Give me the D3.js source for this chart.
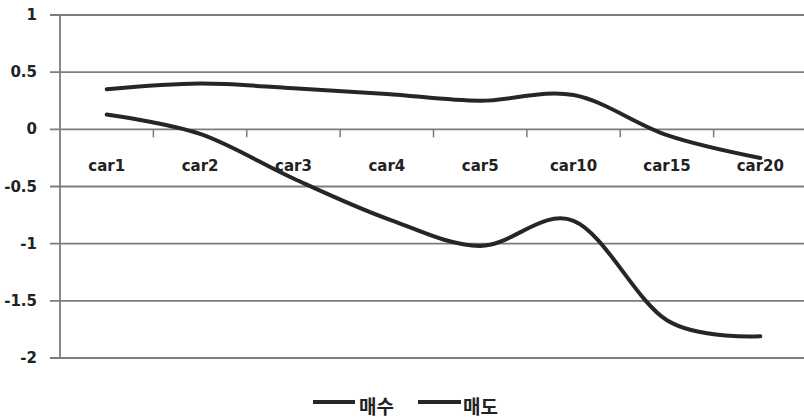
<!DOCTYPE html>
<html>
<head>
<meta charset="utf-8">
<script src="https://cdn.jsdelivr.net/npm/d3@7/dist/d3.min.js"></script>
<style>
  html, body { margin: 0; padding: 0; background: #fff; }
  svg { display: block; }
</style>
</head>
<body>
<svg id="chart" width="804" height="420"></svg>
<script>
const categories = ["car1", "car2", "car3", "car4", "car5", "car10", "car15", "car20"];
const seriesNames = ["매수", "매도"];
const buyValues  = [0.35, 0.40, 0.36, 0.31, 0.25, 0.30, -0.05, -0.25];
const sellValues = [0.13, -0.04, -0.43, -0.78, -1.02, -0.80, -1.67, -1.81];
const yTicks = [1, 0.5, 0, -0.5, -1, -1.5, -2];
const yTickLabels = ["1", "0.5", "0", "-0.5", "-1", "-1.5", "-2"];

(function () {
const svg = d3.select("#chart");
const plotLeft = 60, plotRight = 807, plotTop = 15, plotBottom = 358;

const x = d3.scaleBand().domain(categories).range([plotLeft, plotRight]).padding(0);
const y = d3.scaleLinear().domain([-2, 1]).range([plotBottom, plotTop]);

const gridColor = "#7d7d7d";

// horizontal gridlines
svg.append("g").selectAll("line").data(yTicks).join("line")
  .attr("x1", plotLeft - 10).attr("x2", 804)
  .attr("y1", d => y(d)).attr("y2", d => y(d))
  .attr("stroke", gridColor).attr("stroke-width", 1.8);

// vertical axis line
svg.append("line")
  .attr("x1", plotLeft).attr("x2", plotLeft)
  .attr("y1", y(1)).attr("y2", y(-2))
  .attr("stroke", gridColor).attr("stroke-width", 1.8);

// y tick labels
svg.append("g").selectAll("text").data(yTicks).join("text")
  .attr("x", 37).attr("y", d => y(d))
  .attr("text-anchor", "end").attr("dominant-baseline", "central")
  .attr("font-family", "DejaVu Sans, sans-serif").attr("font-weight", "bold")
  .attr("font-size", 15).attr("fill", "#222")
  .text((d, i) => yTickLabels[i]);

// category tick marks (boundaries)
const boundaries = categories.slice(1).map(c => x(c));
svg.append("g").selectAll("line").data(boundaries).join("line")
  .attr("x1", d => d).attr("x2", d => d)
  .attr("y1", y(0)).attr("y2", y(0) + 8)
  .attr("stroke", gridColor).attr("stroke-width", 1.5);

// category labels
svg.append("g").selectAll("text").data(categories).join("text")
  .attr("x", d => x(d) + x.bandwidth() / 2)
  .attr("y", y(0) + 41.5)
  .attr("text-anchor", "middle")
  .attr("font-family", "DejaVu Sans, sans-serif").attr("font-weight", "bold")
  .attr("font-size", 15).attr("fill", "#222")
  .text(d => d);

// lines
const line = d3.line()
  .x((d, i) => x(categories[i]) + x.bandwidth() / 2)
  .y(d => y(d))
  .curve(d3.curveCardinal.tension(0));

[buyValues, sellValues].forEach(vals => {
  svg.append("path")
    .datum(vals)
    .attr("d", line)
    .attr("fill", "none")
    .attr("stroke", "#262626")
    .attr("stroke-width", 4)
    .attr("stroke-linecap", "round")
    .attr("stroke-linejoin", "round");
});

// legend
const legendItems = [
  { name: seriesNames[0], x1: 313, x2: 355, tx: 359 },
  { name: seriesNames[1], x1: 418, x2: 461, tx: 463 }
];
const lg = svg.append("g");
legendItems.forEach(it => {
  lg.append("line")
    .attr("x1", it.x1).attr("x2", it.x2)
    .attr("y1", 402).attr("y2", 402)
    .attr("stroke", "#262626").attr("stroke-width", 4);
  lg.append("text")
    .attr("x", it.tx).attr("y", 405)
    .attr("dominant-baseline", "central")
    .attr("font-family", "Noto Sans CJK KR, sans-serif").attr("font-weight", "bold")
    .attr("font-size", 19).attr("fill", "#222")
    .text(it.name);
});
})();
</script>
</body>
</html>
